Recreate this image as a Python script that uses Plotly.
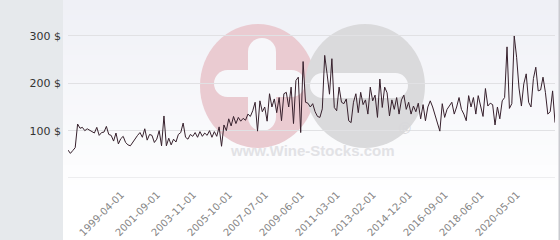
import plotly.graph_objects as go

# ---- data ----
prices = [
    59, 52, 58, 64, 114, 105, 107, 100, 104, 101, 97, 95, 107, 90, 96, 97, 109, 92, 90, 78,
    95, 72, 83, 88, 75, 70, 68, 76, 82, 90, 96, 86, 104, 80, 92, 90, 75, 82, 100, 68,
    131, 68, 84, 70, 82, 76, 92, 96, 116, 86, 82, 92, 88, 96, 86, 98, 88, 95, 90, 100,
    86, 98, 88, 108, 67, 112, 100, 125, 110, 130, 115, 128, 120, 126, 122, 135, 130, 142, 160, 99,
    163, 140, 150, 120, 178, 150, 167, 138, 170, 121, 178, 181, 150, 192, 115, 206, 213, 96, 246, 160,
    158, 150, 157, 140, 130, 128, 146, 259, 220, 177, 252, 149, 142, 192, 160, 157, 167, 121, 117, 160,
    178, 138, 181, 155, 165, 135, 192, 163, 175, 128, 209, 149, 192, 180, 131, 165, 145, 170, 135, 165,
    175, 145, 160, 135, 152, 140, 158, 125, 155, 121, 150, 163, 150, 131, 117, 99, 157, 128, 145, 152,
    160, 135, 150, 170, 145, 135, 121, 174, 150, 170, 135, 174, 150, 130, 189, 152, 158, 155, 112, 150,
    125, 163, 170, 277, 147, 157, 300, 255, 190, 152, 199, 220, 160, 150, 210, 234, 184, 186, 213, 181,
    135, 140, 184, 117,
]
tick_index = [23, 38, 53, 68, 83, 98, 113, 128, 143, 158, 173, 188]
tick_labels = [
    "1999-04-01", "2001-09-01", "2003-11-01", "2005-10-01", "2007-07-01", "2009-06-01",
    "2011-03-01", "2013-02-01", "2014-12-01", "2016-09-01", "2018-06-01", "2020-05-01",
]
y_ticks = [100, 200, 300]

# ---- layout geometry (pixels) ----
W, H = 560, 240
L, R, T, B = 68, 5, 0, 62
PW, PH = W - L - R, H - T - B


def px(x):
    return (x - L) / PW


def py(y):
    return (H - B - y) / PH


def rect(x0, x1, y0, y1, color, layer="below"):
    return dict(type="rect", xref="paper", yref="paper", layer=layer,
                x0=px(x0), x1=px(x1), y0=py(y1), y1=py(y0),
                line=dict(width=0), fillcolor=color)


def ellipse(x0, x1, y0, y1, color):
    return dict(type="circle", xref="paper", yref="paper", layer="below",
                x0=px(x0), x1=px(x1), y0=py(y1), y1=py(y0),
                line=dict(width=0), fillcolor=color)


def pill(x0, x1, y0, y1, color):
    """rounded bar made of a rect with two round ends"""
    out = []
    if (x1 - x0) >= (y1 - y0):
        r = (y1 - y0) / 2
        out.append(rect(x0 + r, x1 - r, y0, y1, color))
        out.append(ellipse(x0, x0 + 2 * r, y0, y1, color))
        out.append(ellipse(x1 - 2 * r, x1, y0, y1, color))
    else:
        r = (x1 - x0) / 2
        out.append(rect(x0, x1, y0 + r, y1 - r, color))
        out.append(ellipse(x0, x1, y0, y0 + 2 * r, color))
        out.append(ellipse(x0, x1, y1 - 2 * r, y1, color))
    return out


shapes = []
# background gradient (light blue-grey at top fading to white)
n_bands = 40
top_c = (239, 240, 246)
for k in range(n_bands):
    y0 = k * 200 / n_bands
    y1 = (k + 1) * 200 / n_bands
    t = k / (n_bands - 1)
    c = tuple(round(top_c[j] + (255 - top_c[j]) * t) for j in range(3))
    shapes.append(rect(63, W, y0, y1 + 0.5, "rgb(%d,%d,%d)" % c))
# left grey panel and right border
shapes.append(rect(0, 63, 0, H, "#e6e9ec"))
shapes.append(rect(558.5, 560, 0, H, "#c9cacf"))
# watermark: pink circle with white plus, grey circle with white minus
shapes.append(ellipse(200, 316, 24, 148, "#eacbd1"))
shapes.append(ellipse(305, 425, 24, 148, "#dadadc"))
bar_c = "#f7f7fa"
shapes += pill(248, 276, 38, 131, bar_c)
shapes += pill(214, 305, 70, 97, bar_c)
shapes += pill(310, 408, 73, 98, bar_c)
# zero baseline
shapes.append(dict(type="line", xref="paper", yref="y", layer="below",
                   x0=0, x1=1, y0=0, y1=0, line=dict(color="#dcdce0", width=1)))

annotations = [
    dict(text="<b>www.Wine-Stocks.com</b>", xref="paper", yref="paper",
         x=px(312), y=py(161), showarrow=False,
         font=dict(family="Liberation Sans", size=15, color="#e2e2e5")),
    dict(text="®", xref="paper", yref="paper", x=px(413), y=py(139), showarrow=False,
         font=dict(family="Liberation Sans", size=16, color="#d8d8db")),
]

fig = go.Figure()
fig.add_trace(go.Scatter(
    x=list(range(len(prices))), y=prices, mode="lines",
    line=dict(color="#37212d", width=1), hoverinfo="skip", showlegend=False,
))

fig.update_layout(
    width=W, height=H,
    margin=dict(l=L, r=R, t=T, b=B, pad=0),
    paper_bgcolor="white",
    plot_bgcolor="rgba(0,0,0,0)",
    shapes=shapes,
    annotations=annotations,
    showlegend=False,
    xaxis=dict(
        range=[0, len(prices) - 1],
        tickmode="array", tickvals=tick_index, ticktext=tick_labels,
        tickangle=-45, showgrid=False, zeroline=False, showline=False,
        ticks="", tickfont=dict(family="DejaVu Sans", size=10, color="#858585"),
        ticklabelstandoff=8, ticklabelshift=-2,
        fixedrange=True,
    ),
    yaxis=dict(
        range=[0, 376],
        tickmode="array", tickvals=y_ticks,
        ticktext=["%d $" % v for v in y_ticks],
        showgrid=True, gridcolor="#e1e1e4", gridwidth=1,
        zeroline=False, showline=False, ticks="",
        tickfont=dict(family="DejaVu Sans", size=11, color="#333333"),
        ticklabelstandoff=6,
        fixedrange=True,
    ),
)

fig.write_html("out.html", config=dict(displayModeBar=False))
